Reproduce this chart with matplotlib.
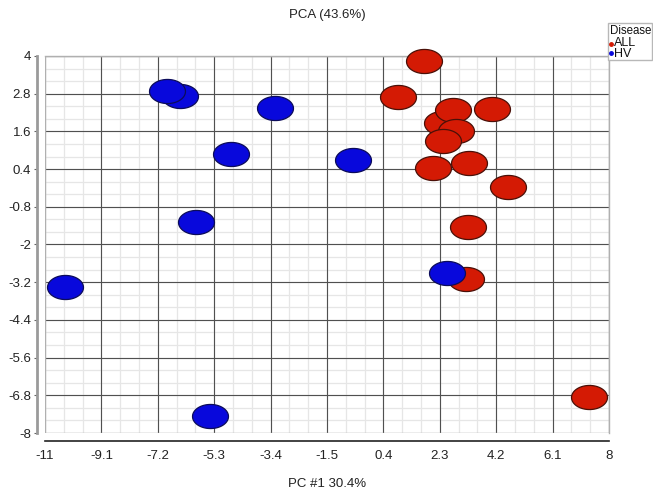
import numpy as np
import matplotlib
matplotlib.use("Agg")
import matplotlib.pyplot as plt
from matplotlib.path import Path
from matplotlib.patches import Rectangle
from matplotlib.lines import Line2D

plt.rcParams['font.family'] = ['Liberation Sans Narrow', 'Liberation Sans', 'DejaVu Sans']

# data
all_x = [2.37, 1.77, 0.90, 2.76, 4.07, 2.84, 2.42, 2.06, 3.29, 4.61, 3.26, 3.18, 7.33]
all_y = [1.86, 3.85, 2.70, 2.28, 2.30, 1.62, 1.30, 0.43, 0.59, -0.16, -1.43, -3.10, -6.85]
hv_x = [-6.45, -6.89, -3.25, -4.74, -0.62, -5.92, -10.33, -5.44, 2.53]
hv_y = [2.73, 2.89, 2.35, 0.87, 0.69, -1.29, -3.35, -7.46, -2.90]

xticks = [-11, -9.1, -7.2, -5.3, -3.4, -1.5, 0.4, 2.3, 4.2, 6.1, 8]
yticks = [4, 2.8, 1.6, 0.4, -0.8, -2, -3.2, -4.4, -5.6, -6.8, -8]
legend_title = 'Disease'
legend_labels = ['ALL', 'HV']

W, H = 653, 494
fig = plt.figure(figsize=(W/100, H/100), dpi=100)
L, R, T, B = 45, 609, 56, 433
ax = fig.add_axes([L/W, 1 - B/H, (R-L)/W, (B-T)/H])
ax.set_xlim(-11, 8)
ax.set_ylim(-8, 4)

# grid
xmin = np.arange(-11, 8.001, 1.9/3)
ymin = np.arange(-8, 4.001, 0.4)
for v in xmin:
    ax.axvline(v, color='#e6e6e6', lw=0.9, zorder=0)
for v in ymin:
    ax.axhline(v, color='#e6e6e6', lw=0.9, zorder=0)
for v in xticks[1:-1]:
    ax.axvline(v, color='#505050', lw=0.8, zorder=0.5)
for v in yticks[1:-1]:
    ax.axhline(v, color='#505050', lw=0.8, zorder=0.5)

# ellipse marker
th = np.linspace(0, 2*np.pi, 120)
ell = Path(np.c_[np.cos(th), 0.67*np.sin(th)], closed=True)
s = 670
ax.scatter(all_x, all_y, s=s, marker=ell, facecolor='#d41a04', edgecolor='#4a1008',
           linewidth=0.9, zorder=3, clip_on=False)
ax.scatter(hv_x, hv_y, s=s, marker=ell, facecolor='#0808dc', edgecolor='#0c0c5a',
           linewidth=0.9, zorder=4, clip_on=False)

# frame
for sp in ['top', 'right']:
    ax.spines[sp].set_color('#b0b0b0')
    ax.spines[sp].set_linewidth(1.0)
ax.spines['left'].set_position(('outward', 6))
ax.spines['left'].set_color('#9a9a9a')
ax.spines['left'].set_linewidth(2.0)
ax.spines['bottom'].set_position(('outward', 6))
ax.spines['bottom'].set_color('#222222')
ax.spines['bottom'].set_linewidth(1.2)
ax.add_patch(Rectangle((0, 0), 1, 1, transform=ax.transAxes, fill=False,
                       edgecolor='#b0b0b0', lw=1.0, zorder=1))

ax.set_xticks(xticks)
ax.set_xticklabels(['-11', '-9.1', '-7.2', '-5.3', '-3.4', '-1.5', '0.4', '2.3', '4.2', '6.1', '8'])
ax.set_yticks(yticks)
ax.set_yticklabels(['4', '2.8', '1.6', '0.4', '-0.8', '-2', '-3.2', '-4.4', '-5.6', '-6.8', '-8'])
ax.tick_params(axis='x', length=0, pad=6, labelsize=9.5, labelcolor='#222222')
ax.tick_params(axis='y', length=2, width=0.8, color='#666666', pad=2, labelsize=9.5,
               labelcolor='#222222')

fig.text(327/W, 1 - 15/H, 'PCA (43.6%)', ha='center', va='center', fontsize=9.5, color='#222222')
fig.text(327/W, 1 - 484/H, 'PC #1 30.4%', ha='center', va='center', fontsize=9.5, color='#222222')

# legend
fig.patches.append(Rectangle((608/W, 1 - 60/H), 44/W, 37/H, transform=fig.transFigure,
                             facecolor='white', edgecolor='#b8b8b8', lw=1.0, zorder=5))
fig.text(610/W, 1 - 30.5/H, legend_title, ha='left', va='center', fontsize=8.3,
         color='#111111', zorder=6)
fig.lines.append(Line2D([611/W], [1 - 44/H], marker='o', ms=2.5, color='#d41a04',
                        transform=fig.transFigure, zorder=6))
fig.lines.append(Line2D([611/W], [1 - 53.5/H], marker='o', ms=2.5, color='#0808dc',
                        transform=fig.transFigure, zorder=6))
fig.text(614/W, 1 - 48.5/H, '\n'.join(legend_labels), ha='left', va='center', fontsize=9,
         linespacing=0.8, color='#111111', zorder=6)

fig.savefig('out.png', dpi=100)
